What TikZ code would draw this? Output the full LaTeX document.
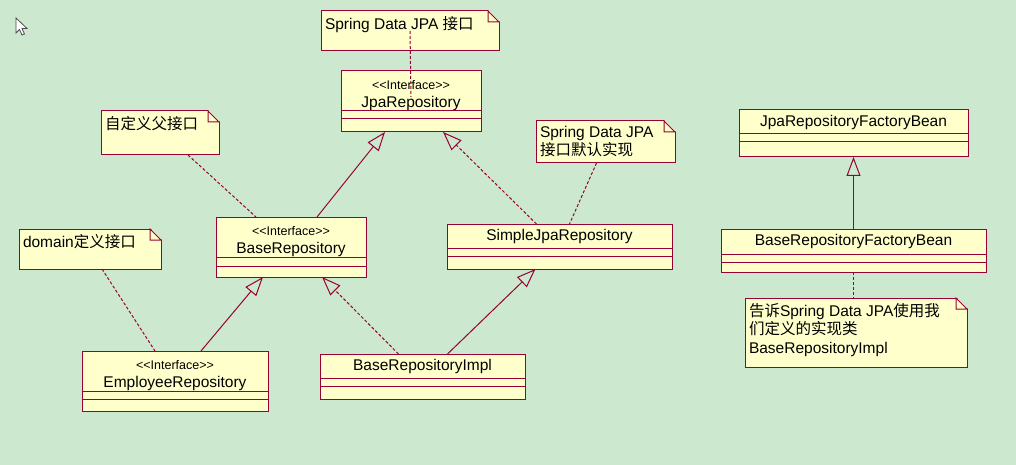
\documentclass[tikz,border=0pt]{standalone}
\usepackage{fontspec}
\usepackage{tikz}
\usetikzlibrary{positioning,arrows.meta}
\newfontfamily\umlfont{Liberation Sans}
\newfontfamily\cjk{Noto Sans CJK SC}
\definecolor{umlbg}{RGB}{204,232,207}
\definecolor{umlfill}{RGB}{255,255,204}
\definecolor{umlline}{RGB}{153,0,51}
\newcommand{\interfacetag}{\rule{0pt}{18pt}{\fontsize{12.5}{14}\selectfont <<Interface>>}}

\begin{document}
\begin{tikzpicture}[
    x=1pt, y=-1pt,
    font=\umlfont\fontsize{15.5}{18.5}\selectfont,
    box/.style={rectangle, draw=umlline, fill=umlfill, line width=1pt, outer sep=0pt, inner sep=0pt, align=center},
    head/.style={box, anchor=north west},
    comp/.style={box, below=0pt of #1},
    note/.style={rectangle, draw=umlline, fill=umlfill, line width=1pt, outer sep=0pt, inner xsep=4pt, inner ysep=5pt, anchor=north west},
    inherit/.style={-{Triangle[open, length=19pt, width=14pt]}, draw=umlline, line width=1pt},
    realize/.style={inherit, dash pattern=on 3pt off 2pt},
    link/.style={draw=umlline, line width=1pt, dash pattern=on 3pt off 2pt}
]

\path[use as bounding box, fill=umlbg] (0,0) rectangle (1016,465);

% Cursor
\draw[black!70, fill=white, line width=0.8pt] (16,18) -- ++(0,15) -- ++(3.5,-3.5) -- ++(2.5,5.5) -- ++(2.5,-1) -- ++(-2.5,-5.5) -- ++(5,0) -- cycle;

% Interfaces
\node[head, minimum width=140pt, minimum height=40pt] (jpa) at (341,71) {\interfacetag\\JpaRepository};
\node[comp=jpa, minimum width=140pt, minimum height=8pt] (jpa_a) {};
\node[comp=jpa_a, minimum width=140pt, minimum height=13pt] (jpa_o) {};

\node[head, minimum width=150pt, minimum height=40pt] (base) at (216,217) {\interfacetag\\BaseRepository};
\node[comp=base, minimum width=150pt, minimum height=9pt] (base_a) {};
\node[comp=base_a, minimum width=150pt, minimum height=11pt] (base_o) {};

\node[head, minimum width=186pt, minimum height=40pt] (emp) at (82,351) {\interfacetag\\EmployeeRepository};
\node[comp=emp, minimum width=186pt, minimum height=8pt] (emp_a) {};
\node[comp=emp_a, minimum width=186pt, minimum height=12pt] (emp_o) {};

% Classes
\node[head, minimum width=225pt, minimum height=24pt] (simple) at (447,224) {SimpleJpaRepository};
\node[comp=simple, minimum width=225pt, minimum height=8pt] (simple_a) {};
\node[comp=simple_a, minimum width=225pt, minimum height=13pt] (simple_o) {};

\node[head, minimum width=205pt, minimum height=24pt] (impl) at (320,354) {BaseRepositoryImpl};
\node[comp=impl, minimum width=205pt, minimum height=8pt] (impl_a) {};
\node[comp=impl_a, minimum width=205pt, minimum height=13pt] (impl_o) {};

\node[head, minimum width=229pt, minimum height=24pt] (jfactory) at (739,110) {JpaRepositoryFactoryBean};
\node[comp=jfactory, minimum width=229pt, minimum height=8pt] (jfactory_a) {};
\node[comp=jfactory_a, minimum width=229pt, minimum height=15pt] (jfactory_o) {};

\node[head, minimum width=265pt, minimum height=25pt] (bfactory) at (721,229) {BaseRepositoryFactoryBean};
\node[comp=bfactory, minimum width=265pt, minimum height=8pt] (bfactory_a) {};
\node[comp=bfactory_a, minimum width=265pt, minimum height=10pt] (bfactory_o) {};

% Notes
\node[note] (nspring) at (321,11) {\parbox[t][30pt][t]{170pt}{\raggedright Spring Data JPA {\cjk 接口}}};
\node[note] (nbase) at (101,111) {\parbox[t][34pt][t]{110pt}{\raggedright {\cjk 自定义父接口}}};
\node[note] (nsimple) at (536,121) {\parbox[t][32pt][t]{131pt}{\raggedright Spring Data JPA\\{\cjk 接口默认实现}}};
\node[note] (ndomain) at (19,229) {\parbox[t][30pt][t]{134pt}{\raggedright domain{\cjk 定义接口}}};
\node[note] (nfactory) at (745,298) {\parbox[t][59pt][t]{214pt}{\raggedright {\cjk 告诉}Spring Data JPA{\cjk 使用我}\\{\cjk 们定义的实现类}\\BaseRepositoryImpl}};

% Folded corners
\foreach \n in {nspring,nbase,nsimple,ndomain,nfactory} {
  \fill[umlbg] ([xshift=-11pt,yshift=1pt]\n.north east) -- ([xshift=1pt,yshift=1pt]\n.north east) -- ([xshift=1pt,yshift=-11pt]\n.north east) -- cycle;
  \draw[umlline, fill=umlfill, line width=1pt] ([xshift=-11pt]\n.north east) -- ([yshift=-11pt]\n.north east) -- ([xshift=-11pt,yshift=-11pt]\n.north east) -- cycle;
}

% Connectors
\draw[link] (nspring.center) -- ([yshift=-6pt]jpa.center);
\draw[link] ([xshift=28pt]nbase.south) -- ([xshift=-35pt]base.north);
\draw[inherit] ([xshift=26pt]base.north) -- ([xshift=-26pt]jpa_o.south);
\draw[realize] ([xshift=-23pt]simple.north) -- ([xshift=32pt]jpa_o.south);
\draw[link] ([xshift=-9pt]nsimple.south) -- ([xshift=10pt]simple.north);
\draw[link] ([xshift=12pt]ndomain.south) -- ([xshift=-20pt]emp.north);
\draw[inherit] ([xshift=26pt]emp.north) -- ([xshift=-28pt]base_o.south);
\draw[realize] ([xshift=-24pt]impl.north) -- ([xshift=31pt]base_o.south);
\draw[inherit] ([xshift=25pt]impl.north) -- ([xshift=-24pt]simple_o.south);
\draw[inherit] (bfactory.north) -- (jfactory_o.south);
\draw[link] (bfactory_o.south) -- (bfactory_o.south |- nfactory.north);

\end{tikzpicture}
\end{document}
